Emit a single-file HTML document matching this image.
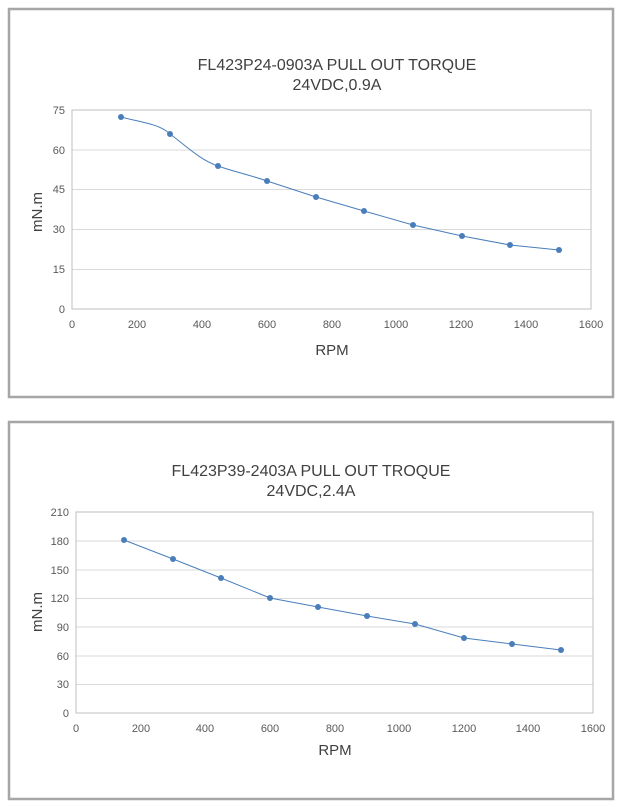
<!DOCTYPE html>
<html><head><style>
body{margin:0;background:#fff;}
svg{display:block;font-family:"Liberation Sans",sans-serif;}
</style></head><body>
<svg width="619" height="807" viewBox="0 0 619 807" xmlns="http://www.w3.org/2000/svg">
<rect x="9" y="9" width="604" height="388" fill="#fff" stroke="#a6a6a6" stroke-width="2.5"/>
<rect x="9" y="422" width="604" height="377" fill="#fff" stroke="#a6a6a6" stroke-width="2.5"/>

<g fill="#404040" text-anchor="middle">
<text x="337" y="70" font-size="16">FL423P24-0903A PULL OUT TORQUE</text>
<text x="337" y="90" font-size="16">24VDC,0.9A</text>
<text x="311" y="476" font-size="16">FL423P39-2403A PULL OUT TROQUE</text>
<text x="311" y="496" font-size="16">24VDC,2.4A</text>
</g>

<!-- chart 1 -->
<g stroke="#d9d9d9" stroke-width="1">
<line x1="72" y1="150" x2="591" y2="150"/><line x1="72" y1="189.5" x2="591" y2="189.5"/>
<line x1="72" y1="229.5" x2="591" y2="229.5"/><line x1="72" y1="269.5" x2="591" y2="269.5"/>
</g>
<rect x="72" y="110" width="519" height="199" fill="none" stroke="#bfbfbf"/>
<g font-size="11" fill="#595959" text-anchor="end">
<text x="65" y="114">75</text><text x="65" y="154">60</text><text x="65" y="193">45</text>
<text x="65" y="233">30</text><text x="65" y="273">15</text><text x="65" y="313">0</text>
</g>
<g font-size="11" fill="#595959" text-anchor="middle">
<text x="72" y="328">0</text><text x="137" y="328">200</text><text x="202" y="328">400</text>
<text x="267" y="328">600</text><text x="332" y="328">800</text><text x="396" y="328">1000</text>
<text x="461" y="328">1200</text><text x="526" y="328">1400</text><text x="591" y="328">1600</text>
</g>
<text x="332" y="355" font-size="15" fill="#404040" text-anchor="middle">RPM</text>
<text transform="translate(42,212) rotate(-90)" font-size="15" fill="#404040" text-anchor="middle">mN.m</text>
<path d="M121,117 C140,122 160,124 170,134 C185,145 200,160 218,166 C235,172 250,175 267,181 L316,197 L364,211 L413,225 L462,236 L510,245 L559,250" fill="none" stroke="#4a7ebb" stroke-width="1"/>
<g fill="#4a7ebb">
<circle cx="121" cy="117" r="3"/><circle cx="170" cy="134" r="3"/><circle cx="218" cy="166" r="3"/>
<circle cx="267" cy="181" r="3"/><circle cx="316" cy="197" r="3"/><circle cx="364" cy="211" r="3"/>
<circle cx="413" cy="225" r="3"/><circle cx="462" cy="236" r="3"/><circle cx="510" cy="245" r="3"/>
<circle cx="559" cy="250" r="3"/>
</g>

<!-- chart 2 -->
<g stroke="#d9d9d9" stroke-width="1">
<line x1="76" y1="541" x2="593" y2="541"/><line x1="76" y1="570" x2="593" y2="570"/>
<line x1="76" y1="598.5" x2="593" y2="598.5"/><line x1="76" y1="627" x2="593" y2="627"/>
<line x1="76" y1="656" x2="593" y2="656"/><line x1="76" y1="684.5" x2="593" y2="684.5"/>
</g>
<rect x="76" y="512" width="517" height="201" fill="none" stroke="#bfbfbf"/>
<g font-size="11" fill="#595959" text-anchor="end">
<text x="69" y="516">210</text><text x="69" y="545">180</text><text x="69" y="574">150</text>
<text x="69" y="602">120</text><text x="69" y="631">90</text><text x="69" y="660">60</text>
<text x="69" y="688">30</text><text x="69" y="717">0</text>
</g>
<g font-size="11" fill="#595959" text-anchor="middle">
<text x="76" y="732">0</text><text x="141" y="732">200</text><text x="205" y="732">400</text>
<text x="270" y="732">600</text><text x="335" y="732">800</text><text x="399" y="732">1000</text>
<text x="464" y="732">1200</text><text x="528" y="732">1400</text><text x="593" y="732">1600</text>
</g>
<text x="335" y="755" font-size="15" fill="#404040" text-anchor="middle">RPM</text>
<text transform="translate(42,612) rotate(-90)" font-size="15" fill="#404040" text-anchor="middle">mN.m</text>
<polyline points="124,540 173,559 221,578 270,598 318,607 367,616 415,624 464,638 512,644 561,650" fill="none" stroke="#4a7ebb" stroke-width="1"/>
<g fill="#4a7ebb">
<circle cx="124" cy="540" r="3"/><circle cx="173" cy="559" r="3"/><circle cx="221" cy="578" r="3"/>
<circle cx="270" cy="598" r="3"/><circle cx="318" cy="607" r="3"/><circle cx="367" cy="616" r="3"/>
<circle cx="415" cy="624" r="3"/><circle cx="464" cy="638" r="3"/><circle cx="512" cy="644" r="3"/>
<circle cx="561" cy="650" r="3"/>
</g>
</svg>
</body></html>
